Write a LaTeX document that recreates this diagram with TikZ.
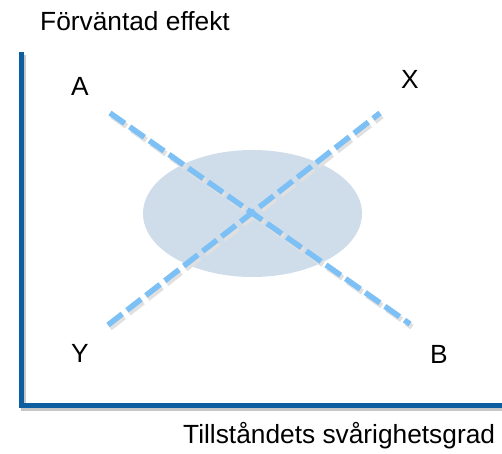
\documentclass[tikz,border=0pt]{standalone}
\usepackage{fontspec}
\setmainfont{Liberation Sans}
\definecolor{axisblue}{RGB}{12,94,160}
\definecolor{dashblue}{RGB}{124,192,245}
\definecolor{fieldblue}{RGB}{207,221,234}
\begin{document}
\begin{tikzpicture}[x=1bp, y=-1bp,
    axis/.style={axisblue, line width=5bp},
    axisshadow/.style={black!22, line width=5bp},
    dashline/.style={dashblue, line width=5.5bp, dash pattern=on 18bp off 6bp},
    dashshadow/.style={black!12, line width=5.5bp, dash pattern=on 18bp off 6bp},
    every node/.style={font=\fontsize{26.4}{30}\selectfont, inner sep=0pt}]
    \useasboundingbox (0,0) rectangle (502,454);

    % === Axlar ===
    \coordinate (top) at (21,52);
    \coordinate (origo) at (21,405);
    \coordinate (right) at (502,405);
    \draw[axisshadow] ([shift={(2,3)}]top) -- ([shift={(2,3)}]origo) -- ([shift={(2,3)}]right);
    \draw[axis] (top) -- (origo) -- (right);

    \node[anchor=base west] (yaxis) at (40,31) {Förväntad effekt};
    \node[anchor=base west] (xaxis) at (183,443) {Tillståndets svårighetsgrad};

    % === Fältet ===
    \fill[fieldblue] (252.5,213.5) ellipse [x radius=109.5, y radius=63.5];

    % === Linjer ===
    \coordinate (aEnd) at (110,113);
    \coordinate (bEnd) at (410,324);
    \coordinate (xEnd) at (380,113);
    \coordinate (yEnd) at (108,325);
    \draw[dashshadow] ([shift={(2,3)}]aEnd) -- ([shift={(2,3)}]bEnd);
    \draw[dashshadow] ([shift={(2,3)}]yEnd) -- ([shift={(2,3)}]xEnd);
    \draw[dashline] (aEnd) -- (bEnd);
    \draw[dashline] (yEnd) -- (xEnd);

    \node (A) at (80,86) {A};
    \node (X) at (410,79) {X};
    \node (Y) at (80,353) {Y};
    \node (B) at (439,354) {B};
\end{tikzpicture}
\end{document}
